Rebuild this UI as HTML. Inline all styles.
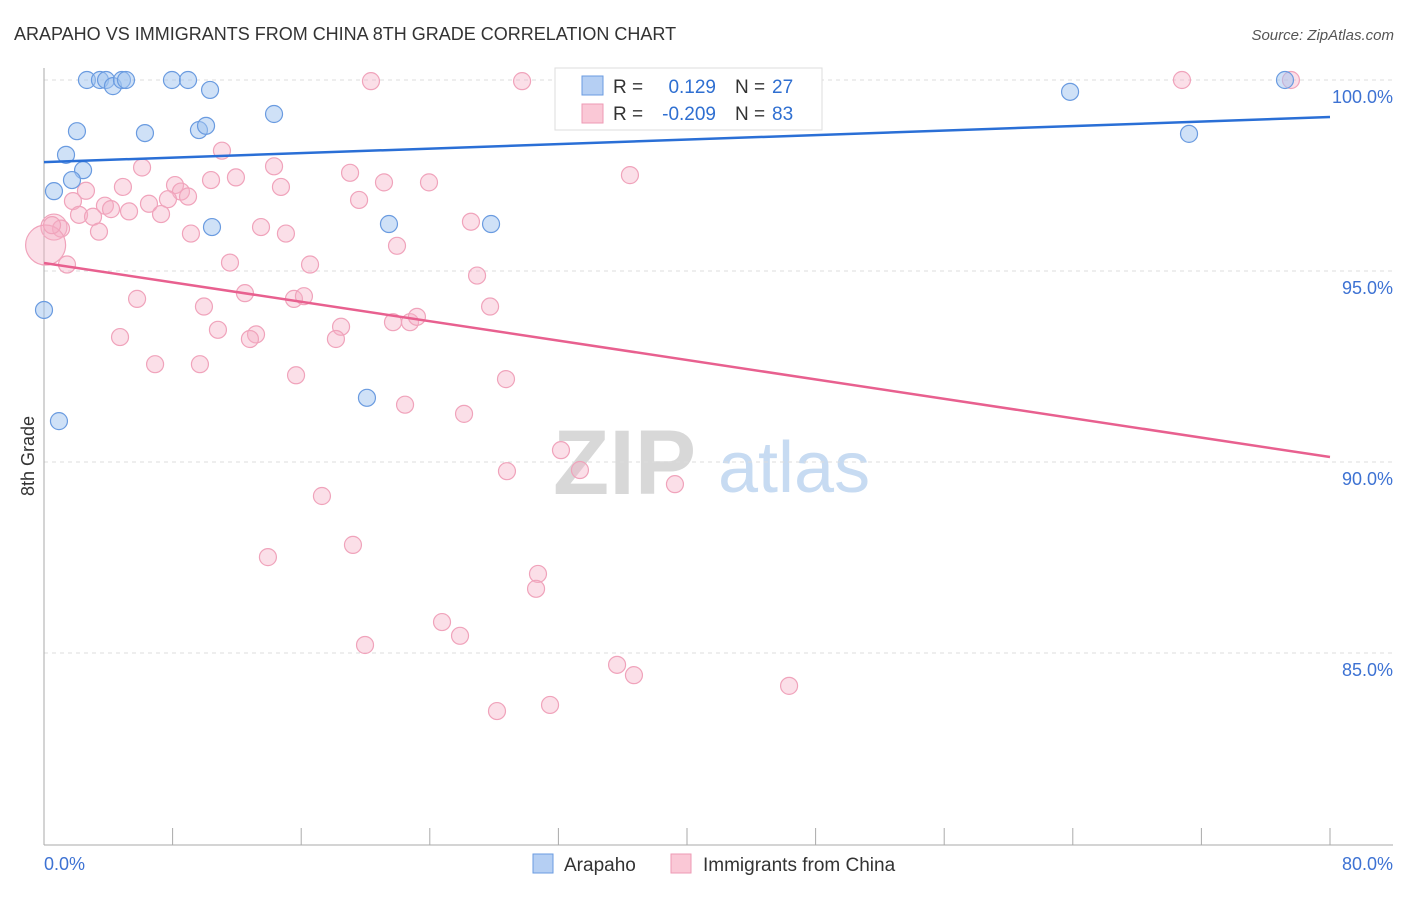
<!DOCTYPE html>
<html><head><meta charset="utf-8"><style>
body{margin:0;background:#fff;font-family:"Liberation Sans",sans-serif;}
svg text{font-family:"Liberation Sans",sans-serif;}
</style></head><body>
<svg id="c" width="1406" height="892" viewBox="0 0 1406 892" xmlns="http://www.w3.org/2000/svg">
<text x="14" y="40" font-size="18" fill="#333">ARAPAHO VS IMMIGRANTS FROM CHINA 8TH GRADE CORRELATION CHART</text>
<text x="1394" y="40" font-size="15" fill="#555" text-anchor="end" font-style="italic">Source: ZipAtlas.com</text>
<g><text x="553" y="494" font-size="92" fill="#d8d8d8" font-family="Liberation Serif" font-weight="bold">ZIP</text><text x="718" y="492" font-size="72" fill="#c7dbf2">atlas</text></g>
<g id="grid"></g><g id="axes"></g><g id="pts"></g><g id="lines"></g>
<text transform="translate(34,456) rotate(-90)" font-size="18" fill="#333" text-anchor="middle">8th Grade</text>
<g>
<rect x="555" y="68" width="267" height="62" fill="#fff" stroke="#ddd"/>
<rect x="582" y="76" width="21" height="19" fill="#b5cff3" stroke="#6a9be0"/>
<rect x="582" y="104" width="21" height="19" fill="#fac8d6" stroke="#ee9ab4"/>
<text x="613" y="93" font-size="19" fill="#333">R = </text><text x="716" y="93" font-size="19" fill="#2f6fd1" text-anchor="end">0.129</text>
<text x="735" y="93" font-size="19" fill="#333">N = </text><text x="772" y="93" font-size="19" fill="#2f6fd1">27</text>
<text x="613" y="120" font-size="19" fill="#333">R = </text><text x="716" y="120" font-size="19" fill="#2f6fd1" text-anchor="end">-0.209</text>
<text x="735" y="120" font-size="19" fill="#333">N = </text><text x="772" y="120" font-size="19" fill="#2f6fd1">83</text>
</g>
<g>
<rect x="533" y="854" width="20" height="19" fill="#b5cff3" stroke="#6a9be0"/>
<text x="564" y="871" font-size="19" fill="#333">Arapaho</text>
<rect x="671" y="854" width="20" height="19" fill="#fac8d6" stroke="#ee9ab4"/>
<text x="703" y="871" font-size="19" fill="#333">Immigrants from China</text>
</g>
</svg>
<script>
const xTicks=[0,8,16,24,32,40,48,56,64,72,80];
const yTicks=[100,95,90,85];
const yTickLabels=["100.0%","95.0%","90.0%","85.0%"];
const blueX=[2.67,3.48,3.86,4.29,4.85,5.10,7.96,8.96,10.33,14.31,2.05,6.28,9.64,10.08,1.37,2.43,1.74,0.62,10.45,21.46,27.81,0,0.93,20.09,63.83,71.23,77.20];
const blueY=[100,100,100,99.84,100,100,100,100,99.74,99.11,98.66,98.61,98.69,98.80,98.04,97.64,97.38,97.09,96.15,96.23,96.23,93.98,91.07,91.68,99.69,98.59,100];
const pinkX=[11.07,6.10,14.31,19.04,21.15,23.95,10.39,11.94,4.91,14.74,2.61,8.15,8.52,8.96,19.60,1.80,3.79,4.17,6.53,7.71,5.29,7.28,2.18,3.05,3.42,0.62,1.06,0.1,9.14,13.50,15.05,26.56,21.96,1.43,11.57,16.55,26.94,5.79,12.50,15.55,16.17,9.95,27.75,21.71,22.77,23.20,18.48,18.16,10.82,13.19,12.81,4.73,6.91,9.70,15.68,28.74,22.46,26.13,20.34,29.74,32.16,28.80,33.34,39.25,17.29,19.22,13.93,30.73,30.61,24.76,25.88,19.97,35.65,36.70,28.18,31.48,46.35,36.45,32.97,40.81,70.79,77.57,0.5];
const pinkY=[98.15,97.71,97.74,97.57,97.32,97.32,97.38,97.45,97.20,97.20,97.10,97.25,97.08,96.95,96.86,96.83,96.71,96.62,96.76,96.88,96.56,96.49,96.47,96.42,96.03,96.15,96.11,95.68,95.98,96.15,95.98,96.29,95.66,95.17,95.22,95.17,94.88,94.27,94.42,94.27,94.34,94.07,94.07,93.66,93.66,93.80,93.54,93.22,93.46,93.34,93.22,93.27,92.56,92.56,92.27,92.17,91.50,91.26,99.97,99.97,90.31,89.76,89.79,89.42,89.11,87.83,87.51,87.07,86.68,85.81,85.45,85.21,84.69,84.42,83.48,83.64,84.14,97.51,100,100,100,100,96.20];
const pinkBig=[25,27];
const blueTrend=[97.85,99.03];
const pinkTrend=[95.21,90.13];
const NS="http://www.w3.org/2000/svg";
const X=v=>44+v*(1286/80);
const Y=v=>80+(100-v)*38.2;
function mk(t,a,p){const e=document.createElementNS(NS,t);for(const k in a)e.setAttribute(k,a[k]);p.appendChild(e);return e;}
const grid=document.getElementById('grid'),axes=document.getElementById('axes'),pts=document.getElementById('pts'),lines=document.getElementById('lines');
yTicks.forEach((v,i)=>{
 const l=mk('line',{x1:44,x2:1393,y1:Y(v),y2:Y(v),stroke:'#ddd','stroke-dasharray':'4 4'},grid);
 
 
 const t=mk('text',{x:1393,y:Y(v)+23,'font-size':18,fill:'#3d72d3','text-anchor':'end'},axes);
 t.textContent=yTickLabels[i];
 
 
});
const ya=mk('line',{x1:44,x2:44,y1:68,y2:845,stroke:'#aaa'},axes);


const xa=mk('line',{x1:44,x2:1393,y1:845,y2:845,stroke:'#aaa'},axes);


xTicks.forEach(v=>{
 const l=mk('line',{x1:X(v),x2:X(v),y1:828,y2:845,stroke:'#aaa'},axes);
 
 
});
const xl0=mk('text',{x:44,y:870,'font-size':18,fill:'#3d72d3'},axes);xl0.textContent=xTicks[0].toFixed(1)+'%';


const xl1=mk('text',{x:1393,y:870,'font-size':18,fill:'#3d72d3','text-anchor':'end'},axes);xl1.textContent=xTicks[xTicks.length-1].toFixed(1)+'%';


pinkX.forEach((v,i)=>{
 const bi=pinkBig.indexOf(i);
 const r=bi===0?13:(bi===1?20:8.5);
 const c=mk('circle',{cx:X(v),cy:Y(pinkY[i]),r:r,fill:'rgba(246,176,198,0.4)',stroke:'#f0a3bb','stroke-width':1.2},pts);
 
 
});
blueX.forEach((v,i)=>{
 const c=mk('circle',{cx:X(v),cy:Y(blueY[i]),r:8.5,fill:'rgba(160,196,240,0.5)',stroke:'#6a9be0','stroke-width':1.2},pts);
 
 
});
const bl=mk('line',{x1:X(0),x2:X(80),y1:Y(blueTrend[0]),y2:Y(blueTrend[1]),stroke:'#2a6fd6','stroke-width':2.5},lines);


const pl=mk('line',{x1:X(0),x2:X(80),y1:Y(pinkTrend[0]),y2:Y(pinkTrend[1]),stroke:'#e8608f','stroke-width':2.5},lines);


</script>
</body></html>
